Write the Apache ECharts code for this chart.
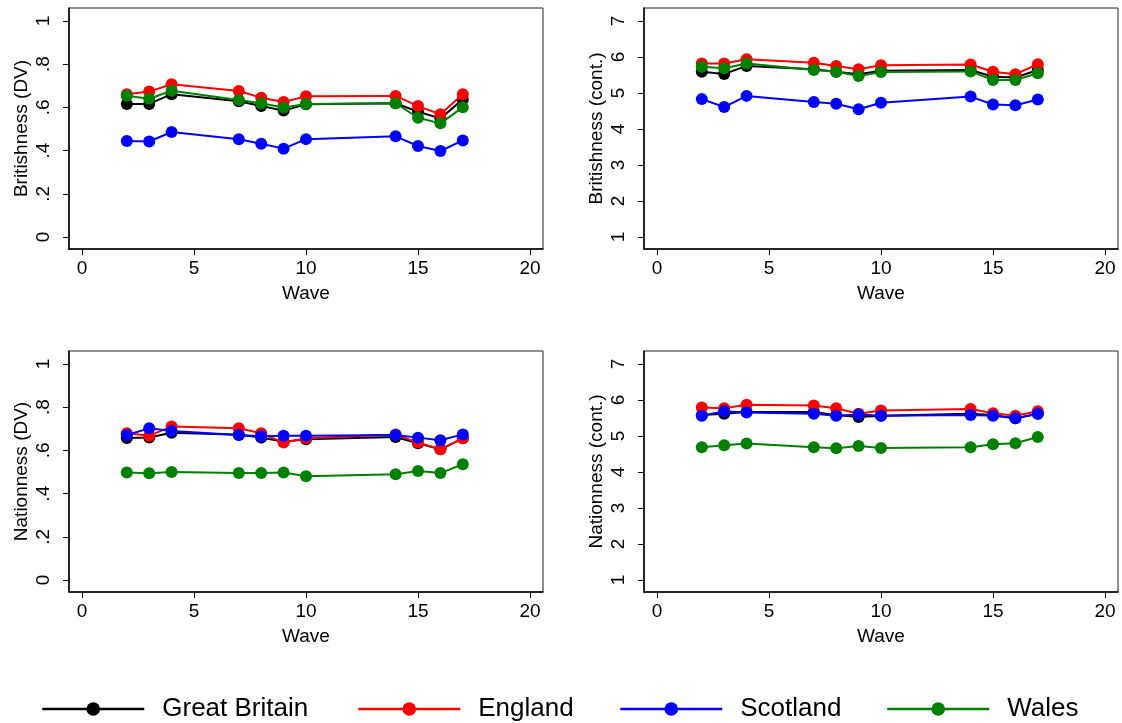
<!DOCTYPE html>
<html>
<head>
<meta charset="utf-8">
<script src="https://cdn.jsdelivr.net/npm/echarts@6/dist/echarts.min.js"></script>
<style>html,body{margin:0;padding:0;background:#fff}#c{width:1122px;height:723px}</style>
</head>
<body>
<div id="c"></div>
<script>
const waves = [2, 3, 4, 7, 8, 9, 10, 14, 15, 16, 17];
const seriesNames = ['Great Britain', 'England', 'Scotland', 'Wales'];
const colors = ['#000000', '#ff0000', '#0000ff', '#008000'];
const xTicks = [0, 5, 10, 15, 20];
const dvTicks = [0, 0.2, 0.4, 0.6, 0.8, 1];
const contTicks = [1, 2, 3, 4, 5, 6, 7];
const panelTitles = ['Britishness (DV)', 'Britishness (cont.)', 'Nationness (DV)', 'Nationness (cont.)'];

// Britishness (DV)
const britDV_GB = [0.616, 0.616, 0.661, 0.628, 0.606, 0.585, 0.614, 0.619, 0.580, 0.549, 0.637];
const britDV_Eng = [0.661, 0.673, 0.707, 0.676, 0.645, 0.625, 0.651, 0.653, 0.606, 0.568, 0.661];
const britDV_Sco = [0.444, 0.442, 0.486, 0.452, 0.432, 0.409, 0.453, 0.466, 0.421, 0.398, 0.447];
const britDV_Wal = [0.654, 0.640, 0.677, 0.634, 0.619, 0.599, 0.616, 0.619, 0.552, 0.526, 0.600];

// Britishness (cont.)
const britC_GB = [5.59, 5.53, 5.75, 5.66, 5.59, 5.52, 5.62, 5.64, 5.45, 5.43, 5.64];
const britC_Eng = [5.82, 5.82, 5.94, 5.84, 5.75, 5.66, 5.77, 5.79, 5.59, 5.52, 5.80];
const britC_Sco = [4.83, 4.61, 4.92, 4.75, 4.70, 4.55, 4.73, 4.90, 4.68, 4.66, 4.82];
const britC_Wal = [5.73, 5.69, 5.82, 5.64, 5.59, 5.47, 5.58, 5.60, 5.36, 5.36, 5.55];

// Nationness (DV)
const natDV_GB = [0.657, 0.660, 0.682, 0.672, 0.659, 0.640, 0.651, 0.662, 0.633, 0.605, 0.656];
const natDV_Eng = [0.679, 0.668, 0.710, 0.702, 0.679, 0.636, 0.656, 0.674, 0.636, 0.605, 0.656];
const natDV_Sco = [0.671, 0.702, 0.690, 0.671, 0.665, 0.668, 0.668, 0.671, 0.659, 0.647, 0.674];
const natDV_Wal = [0.498, 0.494, 0.500, 0.495, 0.495, 0.498, 0.480, 0.489, 0.505, 0.495, 0.536];

// Nationness (cont.)
const natC_GB = [5.58, 5.62, 5.67, 5.67, 5.58, 5.53, 5.56, 5.62, 5.58, 5.49, 5.62];
const natC_Eng = [5.79, 5.77, 5.87, 5.85, 5.77, 5.62, 5.71, 5.75, 5.63, 5.56, 5.69];
const natC_Sco = [5.56, 5.69, 5.65, 5.62, 5.56, 5.60, 5.56, 5.58, 5.56, 5.49, 5.62];
const natC_Wal = [4.69, 4.74, 4.79, 4.69, 4.66, 4.72, 4.67, 4.69, 4.77, 4.80, 4.97];

const panels = [
  [britDV_GB, britDV_Eng, britDV_Sco, britDV_Wal],
  [britC_GB, britC_Eng, britC_Sco, britC_Wal],
  [natDV_GB, natDV_Eng, natDV_Sco, natDV_Wal],
  [natC_GB, natC_Eng, natC_Sco, natC_Wal]
];

const FONT = 'Liberation Sans, Arial, sans-serif';
const gridPos = [
  {left: 69, top: 8}, {left: 644, top: 8},
  {left: 69, top: 351}, {left: 644, top: 351}
];
const grids = gridPos.map(p => ({
  left: p.left, top: p.top, width: 474, height: 241,
  show: true, borderColor: '#222', borderWidth: 1, backgroundColor: '#fff'
}));

function yFmt(v) {
  if (Math.abs(v) < 1e-9) return '0';
  if (Math.abs(v - 1) < 1e-9) return '1';
  return String(Math.round(v * 10) / 10).replace(/^0\./, '.');
}

const xAxes = grids.map((g, i) => ({
  gridIndex: i, type: 'value', min: -0.58, max: 20.58,
  name: 'Wave', nameLocation: 'middle', nameGap: 35,
  nameTextStyle: {fontFamily: FONT, fontSize: 19, color: '#000'},
  axisLine: {show: true, onZero: false, lineStyle: {color: '#000', width: 1.5}},
  axisTick: {show: true, length: 6, customValues: xTicks, lineStyle: {color: '#000', width: 1}},
  axisLabel: {show: true, customValues: xTicks, margin: 10, fontFamily: FONT, fontSize: 19, color: '#000'},
  splitLine: {show: false}
}));

const yAxes = grids.map((g, i) => {
  const dv = (i % 2 === 0);
  const ticks = dv ? dvTicks : contTicks;
  return {
    gridIndex: i, type: 'value',
    min: dv ? -0.0556 : 0.667, max: dv ? 1.06 : 7.361,
    name: panelTitles[i], nameLocation: 'middle', nameGap: 38,
    nameTextStyle: {fontFamily: FONT, fontSize: 19, color: '#000'},
    axisLine: {show: true, onZero: false, lineStyle: {color: '#000', width: 1.5}},
    axisTick: {show: true, length: 6, customValues: ticks, lineStyle: {color: '#000', width: 1}},
    axisLabel: {show: true, customValues: ticks, rotate: 90, margin: 16, fontFamily: FONT, fontSize: 19, color: '#000',
      formatter: v => dv ? yFmt(v) : String(Math.round(v))},
    splitLine: {show: false}
  };
});

const series = [];
panels.forEach((arrs, pi) => {
  arrs.forEach((arr, si) => {
    series.push({
      name: seriesNames[si], type: 'line', xAxisIndex: pi, yAxisIndex: pi,
      data: waves.map((w, k) => [w, arr[k]]),
      symbol: 'circle', symbolSize: 12, showSymbol: true,
      lineStyle: {color: colors[si], width: 2},
      itemStyle: {color: colors[si]},
      z: 2 + si, animation: false
    });
  });
});

const legendLefts = [41, 357, 619, 886];
const legends = seriesNames.map((n, i) => ({
  data: [n], left: legendLefts[i], top: 696, orient: 'horizontal', padding: 0,
  itemWidth: 102, itemHeight: 17, selectedMode: false,
  lineStyle: {width: 2.5},
  textStyle: {fontFamily: FONT, fontSize: 26, color: '#000', padding: [0, 0, 0, 13]}
}));

const chart = echarts.init(document.getElementById('c'));
chart.setOption({
  backgroundColor: '#fff',
  animation: false,
  grid: grids, xAxis: xAxes, yAxis: yAxes, series: series, legend: legends
});
</script>
</body>
</html>
